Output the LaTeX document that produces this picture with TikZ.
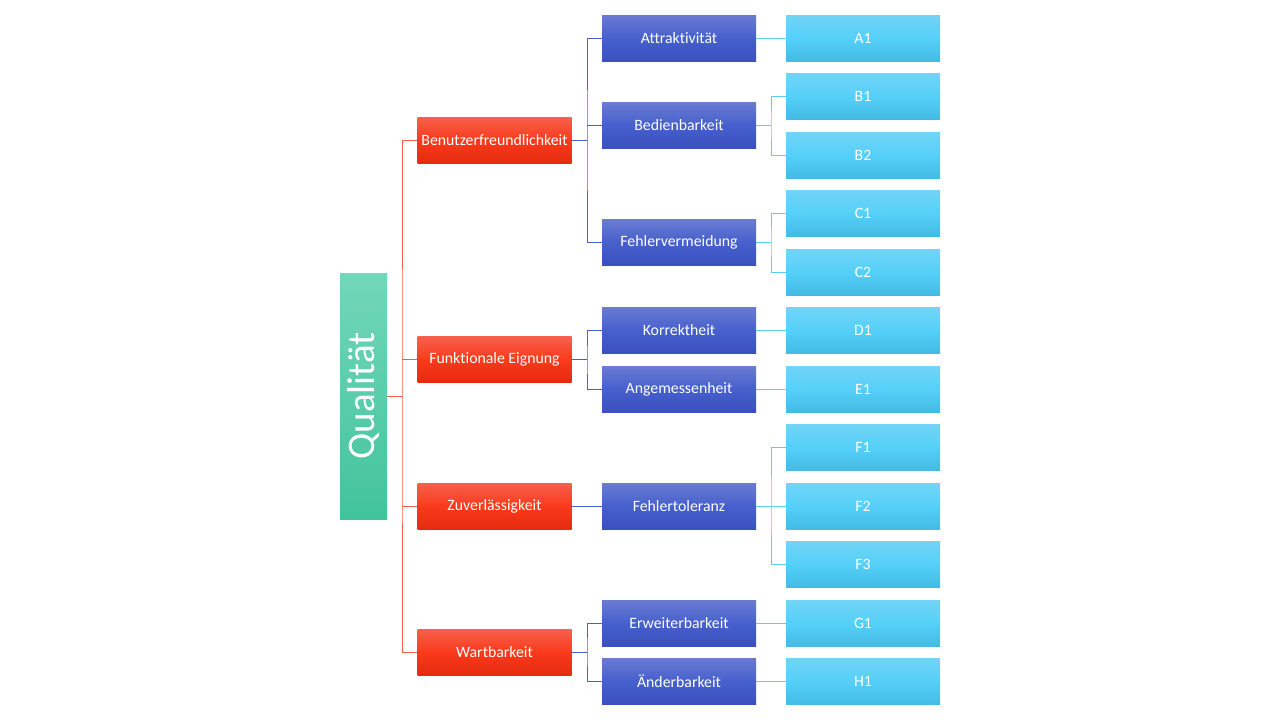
\documentclass[tikz,border=0pt]{standalone}
\usepackage{fontspec}
\setmainfont[Ligatures=NoCommon]{Carlito}
\begin{document}
\begin{tikzpicture}[x=1pt,y=-1pt,
  base/.style={minimum width=154pt,minimum height=46pt,inner sep=0pt,text=white,font=\fontsize{15.8}{18}\selectfont},
  redbox/.style={base,top color=rgb_top_red,bottom color=rgb_bot_red,middle color=rgb_mid_red},
  bluebox/.style={base,top color=bluetop,bottom color=bluebot,middle color=bluemid},
  cyanbox/.style={base,top color=cyantop,bottom color=cyanbot,middle color=cyanmid},
  redline/.style={draw=redln,line width=1pt},
  blueline/.style={draw=blueln,line width=1pt},
  cyanline/.style={draw=cyanln,line width=1pt}]
\definecolor{rgb_top_red}{HTML}{F7604C}
\definecolor{rgb_mid_red}{HTML}{FA3A1C}
\definecolor{rgb_bot_red}{HTML}{E52B0E}
\definecolor{bluetop}{HTML}{6A7BD2}
\definecolor{bluemid}{HTML}{4660CC}
\definecolor{bluebot}{HTML}{3A50BE}
\definecolor{cyantop}{HTML}{72D4F6}
\definecolor{cyanmid}{HTML}{55D0F9}
\definecolor{cyanbot}{HTML}{42BCE4}
\definecolor{greentop}{HTML}{72D7B8}
\definecolor{greenbot}{HTML}{42C39C}
\definecolor{redln}{HTML}{F0604A}
\definecolor{blueln}{HTML}{4A62C8}
\definecolor{cyanln}{HTML}{5CCDF2}
\useasboundingbox (0,0) rectangle (1280,720);
% root
\node[minimum width=47pt,minimum height=246pt,inner sep=0pt,top color=greentop,bottom color=greenbot,text=white] (root) at (363.5,396) {};
\node[rotate=90,text=white,font=\fontsize{39}{40}\selectfont] (roottxt) at (363.5,396) {Qualität};
% level 1
\node[redbox] (r1) at (494.5,140) {Benutzerfreundlichkeit};
\node[redbox] (r2) at (494.5,359.5) {Funktionale Eignung};
\node[redbox] (r3) at (494.5,506) {Zuverlässigkeit};
\node[redbox] (r4) at (494.5,652) {Wartbarkeit};
% level 2
\node[bluebox] (b1) at (679,38) {Attraktivität};
\node[bluebox] (b2) at (679,125) {Bedienbarkeit};
\node[bluebox] (b3) at (679,242.5) {Fehlervermeidung};
\node[bluebox] (b4) at (679,330) {Korrektheit};
\node[bluebox] (b5) at (679,389) {Angemessenheit};
\node[bluebox] (b6) at (679,506) {Fehlertoleranz};
\node[bluebox] (b7) at (679,623) {Erweiterbarkeit};
\node[bluebox] (b8) at (679,681) {Änderbarkeit};
% level 3
\node[cyanbox] (cA1) at (863,38) {A1};
\node[cyanbox] (cB1) at (863,96) {B1};
\node[cyanbox] (cB2) at (863,155) {B2};
\node[cyanbox] (cC1) at (863,213) {C1};
\node[cyanbox] (cC2) at (863,272) {C2};
\node[cyanbox] (cD1) at (863,330) {D1};
\node[cyanbox] (cE1) at (863,389) {E1};
\node[cyanbox] (cF1) at (863,447) {F1};
\node[cyanbox] (cF2) at (863,506) {F2};
\node[cyanbox] (cF3) at (863,564) {F3};
\node[cyanbox] (cG1) at (863,623) {G1};
\node[cyanbox] (cH1) at (863,681) {H1};
% connectors root -> level 1
\coordinate (rj) at (402,396);
\draw[redline] (root.east) -- (rj);
\draw[redline] (r1.west) -| (rj) |- (r4.west);
\draw[redline] (rj |- r2.west) -- (r2.west);
\draw[redline] (rj |- r3.west) -- (r3.west);
% level 1 -> level 2
\coordinate (j1) at (587,140);
\draw[blueline] (r1.east) -- (j1);
\draw[blueline] (b1.west) -| (j1) |- (b3.west);
\draw[blueline] (j1 |- b2.west) -- (b2.west);
\coordinate (j2) at (587,359.5);
\draw[blueline] (r2.east) -- (j2);
\draw[blueline] (b4.west) -| (j2) |- (b5.west);
\draw[blueline] (r3.east) -- (b6.west);
\coordinate (j4) at (587,652);
\draw[blueline] (r4.east) -- (j4);
\draw[blueline] (b7.west) -| (j4) |- (b8.west);
% level 2 -> level 3
\draw[cyanline] (b1.east) -- (cA1.west);
\coordinate (k2) at (771,125);
\draw[cyanline] (b2.east) -- (k2);
\draw[cyanline] (cB1.west) -| (k2) |- (cB2.west);
\coordinate (k3) at (771,242.5);
\draw[cyanline] (b3.east) -- (k3);
\draw[cyanline] (cC1.west) -| (k3) |- (cC2.west);
\draw[cyanline] (b4.east) -- (cD1.west);
\draw[cyanline] (b5.east) -- (cE1.west);
\coordinate (k6) at (771,506);
\draw[cyanline] (b6.east) -- (cF2.west);
\draw[cyanline] (cF1.west) -| (k6) |- (cF3.west);
\draw[cyanline] (b7.east) -- (cG1.west);
\draw[cyanline] (b8.east) -- (cH1.west);
\end{tikzpicture}
\end{document}
